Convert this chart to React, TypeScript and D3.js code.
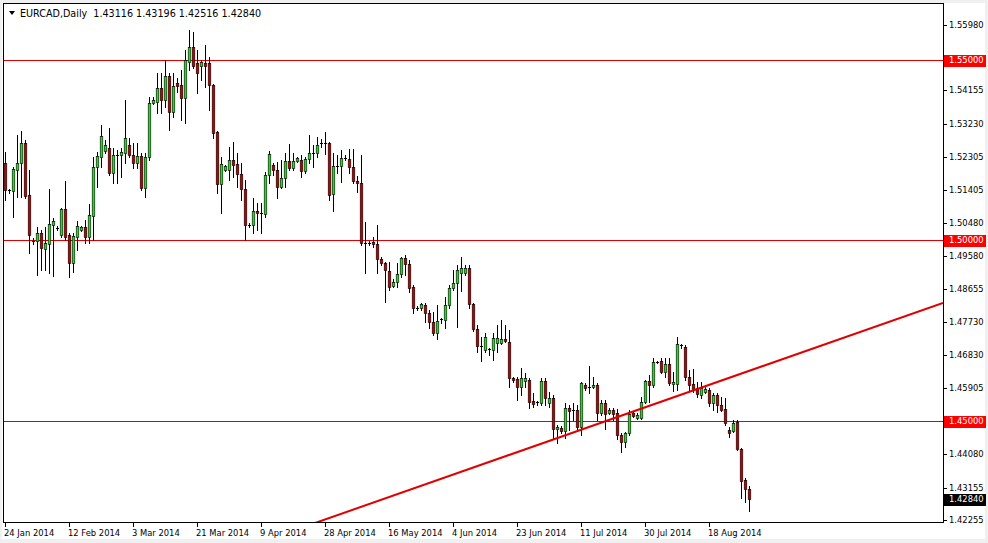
import { useEffect } from "react";
import * as d3 from "d3";

// EURCAD daily, 24 Jan 2014 .. 29 Aug 2014 (MT4 style, Sunday bars included)
const symbol = "EURCAD,Daily";

const opens = [
  1.5215, 1.5140, 1.5137, 1.5195, 1.5215, 1.5270, 1.5126, 1.4998, 1.4998, 1.5021,
  1.4976, 1.4990, 1.5043, 1.5035, 1.5015, 1.5087, 1.5015, 1.4938, 1.5010, 1.5029,
  1.5037, 1.5010, 1.5068, 1.5203, 1.5231, 1.5248, 1.5256, 1.5187, 1.5237, 1.5237,
  1.5242, 1.5264, 1.5237, 1.5215, 1.5234, 1.5145, 1.5231, 1.5381, 1.5383, 1.5422,
  1.5389, 1.5455, 1.5356, 1.5436, 1.5431, 1.5395, 1.5494, 1.5536, 1.5492, 1.5483,
  1.5492, 1.5492, 1.5431, 1.5301, 1.5157, 1.5195, 1.5195, 1.5223, 1.5212, 1.5184,
  1.5143, 1.5043, 1.5043, 1.5082, 1.5076, 1.5073, 1.5181, 1.5209, 1.5195, 1.5148,
  1.5173, 1.5220, 1.5201, 1.5220, 1.5223, 1.5192, 1.5226, 1.5242, 1.5242, 1.5268,
  1.5270, 1.5270, 1.5129, 1.5206, 1.5206, 1.5228, 1.5226, 1.5203, 1.5165, 1.5159,
  1.4993, 1.4993, 1.4996, 1.4990, 1.4948, 1.4937, 1.4916, 1.4874, 1.4885, 1.4907,
  1.4951, 1.4935, 1.4871, 1.4813, 1.4813, 1.4821, 1.4799, 1.4774, 1.4744, 1.4780,
  1.4780, 1.4821, 1.4868, 1.4882, 1.4910, 1.4910, 1.4924, 1.4824, 1.4755, 1.4708,
  1.4697, 1.4697, 1.4697, 1.4716, 1.4716, 1.4727, 1.4719, 1.4619, 1.4616, 1.4594,
  1.4611, 1.4614, 1.4555, 1.4553, 1.4550, 1.4611, 1.4550, 1.4564, 1.4478, 1.4481,
  1.4472, 1.4536, 1.4530, 1.4530, 1.4483, 1.4600, 1.4594, 1.4594, 1.4600, 1.4522,
  1.4550, 1.4522, 1.4530, 1.4522, 1.4461, 1.4442, 1.4467, 1.4522, 1.4508, 1.4508,
  1.4553, 1.4611, 1.4600, 1.4663, 1.4666, 1.4636, 1.4658, 1.4602, 1.4602, 1.4708,
  1.4705, 1.4622, 1.4602, 1.4591, 1.4572, 1.4580, 1.4586, 1.4550, 1.4572, 1.4544,
  1.4533, 1.4475, 1.4472, 1.4497, 1.4422, 1.4337, 1.43116,
];

const highs = [
  1.5245, 1.5143, 1.5203, 1.5292, 1.5303, 1.5278, 1.5195, 1.5007, 1.5037, 1.5029,
  1.5037, 1.5143, 1.5062, 1.5040, 1.5090, 1.5165, 1.5021, 1.5021, 1.5054, 1.5040,
  1.5057, 1.5101, 1.5231, 1.5245, 1.5320, 1.5278, 1.5311, 1.5256, 1.5251, 1.5256,
  1.5389, 1.5284, 1.5270, 1.5270, 1.5242, 1.5242, 1.5397, 1.5397, 1.5464, 1.5464,
  1.5500, 1.5464, 1.5464, 1.5450, 1.5472, 1.5528, 1.5583, 1.5577, 1.5528, 1.5500,
  1.5541, 1.5508, 1.5433, 1.5303, 1.5231, 1.5209, 1.5259, 1.5273, 1.5242, 1.5215,
  1.5168, 1.5048, 1.5118, 1.5104, 1.5104, 1.5190, 1.5248, 1.5215, 1.5217, 1.5223,
  1.5242, 1.5267, 1.5242, 1.5231, 1.5237, 1.5231, 1.5292, 1.5264, 1.5286, 1.5281,
  1.5301, 1.5273, 1.5242, 1.5237, 1.5251, 1.5237, 1.5253, 1.5253, 1.5179, 1.5237,
  1.5051, 1.4998, 1.5010, 1.5043, 1.4954, 1.4940, 1.4940, 1.4893, 1.4938, 1.4954,
  1.4960, 1.4946, 1.4877, 1.4818, 1.4827, 1.4827, 1.4807, 1.4802, 1.4821, 1.4785,
  1.4843, 1.4877, 1.4918, 1.4932, 1.4954, 1.4932, 1.4932, 1.4827, 1.4766, 1.4733,
  1.4744, 1.4702, 1.4744, 1.4766, 1.4780, 1.4766, 1.4752, 1.4622, 1.4622, 1.4647,
  1.4633, 1.4619, 1.4577, 1.4555, 1.4619, 1.4619, 1.4580, 1.4572, 1.4489, 1.4486,
  1.4550, 1.4544, 1.4550, 1.4544, 1.4608, 1.4605, 1.4652, 1.4622, 1.4605, 1.4558,
  1.4558, 1.4536, 1.4536, 1.4533, 1.4467, 1.4469, 1.4530, 1.4525, 1.4522, 1.4566,
  1.4614, 1.4627, 1.4674, 1.4666, 1.4674, 1.4674, 1.4674, 1.4636, 1.4733, 1.4713,
  1.4710, 1.4641, 1.4644, 1.4608, 1.4608, 1.4597, 1.4591, 1.4577, 1.4577, 1.4566,
  1.4564, 1.4483, 1.4503, 1.4503, 1.4425, 1.4342, 1.43196,
];

const lows = [
  1.5112, 1.5132, 1.5065, 1.5120, 1.5120, 1.5117, 1.4966, 1.4990, 1.4904, 1.4918,
  1.4918, 1.4910, 1.4901, 1.5029, 1.5010, 1.5001, 1.4899, 1.4913, 1.4974, 1.5026,
  1.4993, 1.4993, 1.5001, 1.5148, 1.5203, 1.5242, 1.5181, 1.5159, 1.5159, 1.5176,
  1.5215, 1.5231, 1.5201, 1.5201, 1.5140, 1.5120, 1.5223, 1.5379, 1.5353, 1.5353,
  1.5370, 1.5306, 1.5342, 1.5411, 1.5334, 1.5325, 1.5472, 1.5478, 1.5409, 1.5445,
  1.5425, 1.5362, 1.5284, 1.5132, 1.5076, 1.5192, 1.5168, 1.5176, 1.5148, 1.5112,
  1.5001, 1.5037, 1.5021, 1.5029, 1.5021, 1.5065, 1.5159, 1.5181, 1.5117, 1.5145,
  1.5148, 1.5195, 1.5195, 1.5217, 1.5176, 1.5187, 1.5215, 1.5203, 1.5231, 1.5259,
  1.5240, 1.5112, 1.5082, 1.5187, 1.5162, 1.5223, 1.5187, 1.5159, 1.5134, 1.4987,
  1.4910, 1.4987, 1.4982, 1.4910, 1.4932, 1.4829, 1.4863, 1.4871, 1.4871, 1.4899,
  1.4904, 1.4857, 1.4799, 1.4807, 1.4807, 1.4774, 1.4758, 1.4738, 1.4727, 1.4771,
  1.4758, 1.4813, 1.4863, 1.4760, 1.4860, 1.4904, 1.4813, 1.4749, 1.4691, 1.4666,
  1.4691, 1.4683, 1.4669, 1.4691, 1.4713, 1.4719, 1.4594, 1.4608, 1.4558, 1.4572,
  1.4594, 1.4536, 1.4539, 1.4544, 1.4544, 1.4544, 1.4539, 1.4453, 1.4439, 1.4467,
  1.4453, 1.4475, 1.4503, 1.4475, 1.4461, 1.4586, 1.4577, 1.4591, 1.4503, 1.4517,
  1.4478, 1.4519, 1.4503, 1.4450, 1.4414, 1.4428, 1.4461, 1.4511, 1.4505, 1.4505,
  1.4550, 1.4553, 1.4594, 1.4661, 1.4633, 1.4622, 1.4600, 1.4583, 1.4586, 1.4702,
  1.4614, 1.4586, 1.4580, 1.4566, 1.4564, 1.4577, 1.4541, 1.4530, 1.4525, 1.4528,
  1.4489, 1.4456, 1.4469, 1.4420, 1.4286, 1.4275, 1.42516,
];

const closes = [
  1.5140, 1.5137, 1.5198, 1.5215, 1.5270, 1.5123, 1.5015, 1.4996, 1.5021, 1.4979,
  1.4993, 1.5046, 1.5054, 1.5034, 1.5087, 1.5010, 1.4938, 1.5012, 1.5040, 1.5037,
  1.5010, 1.5071, 1.5203, 1.5234, 1.5289, 1.5264, 1.5187, 1.5237, 1.5238, 1.5245,
  1.5284, 1.5237, 1.5215, 1.5234, 1.5145, 1.5231, 1.5381, 1.5389, 1.5422, 1.5389,
  1.5455, 1.5356, 1.5428, 1.5428, 1.5395, 1.5500, 1.5536, 1.5483, 1.5464, 1.5494,
  1.5483, 1.5431, 1.5298, 1.5157, 1.5212, 1.5206, 1.5223, 1.5209, 1.5184, 1.5143,
  1.5043, 1.5042, 1.5082, 1.5076, 1.5073, 1.5181, 1.5240, 1.5195, 1.5148, 1.5173,
  1.5220, 1.5201, 1.5220, 1.5228, 1.5192, 1.5226, 1.5242, 1.5241, 1.5264, 1.5270,
  1.5269, 1.5126, 1.5206, 1.5207, 1.5228, 1.5229, 1.5203, 1.5165, 1.5159, 1.4993,
  1.4992, 1.4994, 1.4990, 1.4948, 1.4937, 1.4918, 1.4871, 1.4885, 1.4907, 1.4951,
  1.4935, 1.4868, 1.4813, 1.4812, 1.4824, 1.4799, 1.4774, 1.4744, 1.4777, 1.4781,
  1.4821, 1.4868, 1.4882, 1.4918, 1.4924, 1.4924, 1.4824, 1.4755, 1.4708, 1.4707,
  1.4733, 1.4698, 1.4730, 1.4730, 1.4727, 1.4721, 1.4619, 1.4614, 1.4594, 1.4619,
  1.4619, 1.4553, 1.4547, 1.4552, 1.4611, 1.4564, 1.4564, 1.4478, 1.4483, 1.4472,
  1.4536, 1.4528, 1.4531, 1.4483, 1.4605, 1.4591, 1.4593, 1.4600, 1.4522, 1.4550,
  1.4519, 1.4530, 1.4519, 1.4461, 1.4442, 1.4467, 1.4519, 1.4514, 1.4517, 1.4553,
  1.4611, 1.4600, 1.4663, 1.4664, 1.4636, 1.4658, 1.4605, 1.4608, 1.4713, 1.4709,
  1.4622, 1.4600, 1.4586, 1.4575, 1.4591, 1.4589, 1.4550, 1.4572, 1.4544, 1.4530,
  1.4494, 1.4467, 1.4494, 1.4422, 1.4334, 1.4311, 1.42840,
];

// bottom axis: one label every 16 bars, starting at bar 0
const dateLabels = [
  "24 Jan 2014", "12 Feb 2014", "3 Mar 2014", "21 Mar 2014", "9 Apr 2014", "28 Apr 2014",
  "16 May 2014", "4 Jun 2014", "23 Jun 2014", "11 Jul 2014", "30 Jul 2014", "18 Aug 2014",
];
const dateStep = 16;

// right axis
const priceTicks = [
  1.5598, 1.54155, 1.5323, 1.52305, 1.51405, 1.5048, 1.4958, 1.48655,
  1.4773, 1.4683, 1.45905, 1.4408, 1.43155, 1.42255,
];
const levels = [1.55, 1.5, 1.45];

// trend line anchors (bar index, price)
const trendBars = [134, 180];
const trendPrices = [1.44366, 1.46152];

const W = 988;
const H = 543;
const L = 4;
const R = 943;
const T = 4;
const B = 522;
const FONT = "'DejaVu Sans', Tahoma, sans-serif";
const FS = 8.4;
const BULL = "#22dd22";
const BEAR = "#c00000";
const LINE_RED = "#e00000";

const App = () => {
  useEffect(() => {
    document.body.style.margin = "0";
  }, []);

  const n = closes.length;
  const x = d3.scaleLinear().domain([0, n - 1]).range([5, 5 + 4 * (n - 1)]);
  const y = d3.scaleLinear().domain([1.422, 1.5655]).range([B, T]);
  const fmt = d3.format(".5f");

  const last = n - 1;
  const title = `${symbol}  ${fmt(opens[last])} ${fmt(highs[last])} ${fmt(lows[last])} ${fmt(closes[last])}`;

  // trend line extended to the plot edges
  const trend = d3.scaleLinear().domain(trendBars).range(trendPrices);
  const b0 = x.invert(L);
  const b1 = x.invert(R);

  const candles = d3.range(n).map((i) => {
    const cx = Math.round(x(i));
    const o = opens[i];
    const c = closes[i];
    const yo = Math.round(y(o));
    const yc = Math.round(y(c));
    const top = Math.min(yo, yc);
    const bot = Math.max(yo, yc);
    const up = c >= o;
    return (
      <g key={i}>
        <line
          x1={cx + 0.5}
          x2={cx + 0.5}
          y1={Math.round(y(highs[i]))}
          y2={Math.round(y(lows[i])) + 1}
          stroke="#000"
          strokeWidth={1}
        />
        {bot - top >= 2 ? (
          <rect
            x={cx - 0.8}
            y={top + 0.4}
            width={2.6}
            height={bot - top + 0.2}
            fill={up ? BULL : BEAR}
            stroke="#000"
            strokeWidth={0.6}
            shapeRendering="geometricPrecision"
          />
        ) : (
          <line x1={cx - 1} x2={cx + 2} y1={top + 0.5} y2={top + 0.5} stroke="#000" strokeWidth={1} />
        )}
      </g>
    );
  });

  const axisLabel = (p: number, bg: string | null, key: string) => {
    const yy = Math.round(y(p)) + 0.5;
    return (
      <g key={key}>
        <line x1={R} x2={R + 4} y1={yy} y2={yy} stroke="#000" />
        {bg && <rect x={R + 1} y={yy - 6} width={42} height={12} fill={bg} />}
        <text
          x={R + 6}
          y={yy}
          dy="0.35em"
          fontFamily={FONT}
          fontSize={FS}
          fill={bg ? "#fff" : "#000"}
        >
          {fmt(p)}
        </text>
      </g>
    );
  };

  return (
    <svg width={W} height={H} style={{ display: "block" }} shapeRendering="crispEdges">
      <rect x={0} y={0} width={W} height={H} fill="#f0f0f0" />
      <rect x={2} y={3} width={983} height={536} fill="#fff" />
      <defs>
        <clipPath id="plot">
          <rect x={L} y={T} width={R - L} height={B - T} />
        </clipPath>
      </defs>

      {/* support / resistance levels */}
      {levels.map((p) => (
        <line
          key={p}
          x1={L}
          x2={R}
          y1={Math.round(y(p)) + 0.5}
          y2={Math.round(y(p)) + 0.5}
          stroke={LINE_RED}
          strokeWidth={1}
        />
      ))}

      <g clipPath="url(#plot)">{candles}</g>

      {/* trend line */}
      <g clipPath="url(#plot)">
        <line
          x1={x(b0)}
          y1={y(trend(b0))}
          x2={x(b1)}
          y2={y(trend(b1))}
          stroke={LINE_RED}
          strokeWidth={2}
          shapeRendering="geometricPrecision"
        />
      </g>

      {/* frame */}
      <rect x={L - 0.5} y={T - 0.5} width={R - L + 0.5} height={B - T + 0.5} fill="none" stroke="#000" />

      {/* title */}
      <path d="M9,11 L15,11 L12,15 Z" fill="#000" shapeRendering="geometricPrecision" />
      <text x={20} y={17} fontFamily={FONT} fontSize={9.6} fill="#000" style={{ whiteSpace: "pre" }}>
        {title}
      </text>

      {/* right axis */}
      {priceTicks.map((p) => axisLabel(p, null, "t" + p))}
      {levels.map((p) => axisLabel(p, "#ff0000", "l" + p))}
      {axisLabel(closes[last], "#000", "cur")}

      {/* bottom axis */}
      {dateLabels.map((d, k) => {
        const xx = Math.round(x(k * dateStep)) + 0.5;
        return (
          <g key={d}>
            <line x1={xx} x2={xx} y1={B} y2={B + 5} stroke="#000" />
            <text x={xx - 1.5} y={536} fontFamily={FONT} fontSize={FS} fill="#000">
              {d}
            </text>
          </g>
        );
      })}
    </svg>
  );
};

export default App;
